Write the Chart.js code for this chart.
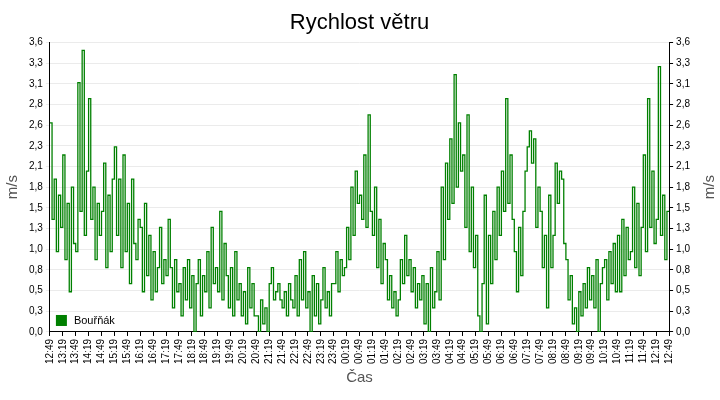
<!DOCTYPE html>
<html><head><meta charset="utf-8">
<script src="https://cdn.jsdelivr.net/npm/chart.js@4"></script>
<style>html,body{margin:0;padding:0;background:#fff}#w{width:720px;height:400px}</style>
</head><body><div id="w"><canvas id="c"></canvas></div>
<script>
const seriesName = "Bouřňák";
const startTime = "12:49";
const stepMinutes = 5;
const yTicksMax = 3.6;
const speed = [
2.6,1.4,1.9,1.0,1.7,1.3, 2.2,0.9,1.6,0.5,1.8,1.1, 1.0,3.1,1.5,3.5,1.2,2.0, 2.9,1.4,1.8,0.9,1.6,1.2,
1.5,2.1,0.8,1.7,1.0,1.9, 2.3,1.2,1.9,0.8,2.2,1.0, 1.6,0.6,1.9,1.1,0.9,1.4, 1.3,0.5,1.6,0.7,1.2,0.4,
1.0,0.5,0.8,1.3,0.6,0.9, 0.7,1.4,0.8,0.3,0.9,0.5, 0.6,0.2,0.8,0.4,0.9,0.3, 0.7,0.0,0.6,0.9,0.2,0.7,
0.5,1.0,0.3,1.3,0.6,0.8, 0.5,1.5,0.4,1.1,0.7,0.3, 0.8,0.2,1.0,0.4,0.6,0.2, 0.5,0.1,0.8,0.3,0.6,0.2,
0.2,0.0,0.4,0.1,0.3,0.0, 0.6,0.8,0.4,0.5,0.6,0.4, 0.3,0.5,0.2,0.6,0.4,0.3, 0.7,0.2,0.9,0.4,1.0,0.3,
0.5,0.0,0.7,0.2,0.6,0.1, 0.4,0.8,0.3,0.5,0.2,0.6, 0.6,1.0,0.5,0.9,0.7,0.8, 1.3,0.9,1.8,1.2,2.0,1.6,
1.7,1.4,2.2,1.3,2.7,1.5, 1.2,1.8,0.8,1.4,0.6,1.1, 0.9,0.4,0.7,0.3,0.5,0.2, 0.4,0.9,0.6,1.2,0.7,0.9,
0.5,0.8,0.3,0.6,0.4,0.7, 0.1,0.6,0.0,0.8,0.3,0.5, 1.0,0.4,1.8,0.9,2.1,1.4, 2.4,1.6,3.2,1.8,2.6,2.0,
2.2,1.3,2.7,1.0,1.8,0.8, 1.2,0.2,0.0,0.6,1.7,0.1, 1.2,0.6,1.5,0.9,1.8,1.2, 2.0,1.5,2.9,1.6,2.2,1.4,
1.0,0.5,1.3,0.7,1.5,2.0, 2.3,2.5,2.1,2.4,1.3,1.8, 1.5,0.8,1.2,0.3,1.7,0.8, 1.2,2.1,1.6,2.0,1.9,1.1,
0.9,0.4,0.7,0.1,0.3,0.0, 0.5,0.2,0.6,0.3,0.8,0.4, 0.7,0.3,0.9,0.0,0.6,0.8, 0.9,0.4,1.0,0.6,1.1,0.5,
1.2,0.5,1.4,0.7,1.3,0.9, 1.0,1.8,0.8,1.6,0.7,1.3, 2.2,1.0,2.9,1.3,2.0,1.1, 1.4,3.3,1.2,1.7,0.9,1.5,
1.5
];
const labels = [];
{ let [h,m] = startTime.split(':').map(Number); let t = h*60+m;
  for (let i=0;i<speed.length;i++){ const tt=(t+i*stepMinutes)%1440; labels.push(String(Math.floor(tt/60)).padStart(2,'0')+':'+String(tt%60).padStart(2,'0')); } }

const fmt = v => (Math.round(v*10)/10).toFixed(1).replace('.',',');
const tickFont = {family:'Liberation Sans, Arial', size:10};
const yTicks = {stepSize:yTicksMax/14, callback:fmt, color:'#000', font:tickFont, padding:3};
const extras = { id:'extras', afterDraw(ch){
  const a=ch.chartArea, c=ch.ctx; c.save();
  c.fillStyle='#008000'; c.fillRect(a.left+6, a.bottom-17, 11, 11);
  c.fillStyle='#000'; c.font='11px "Liberation Sans", Arial'; c.textBaseline='middle';
  c.fillText(seriesName, a.left+24, a.bottom-11);
  const s=ch.scales.y2;
  c.fillStyle='#555'; c.font='15px "Liberation Sans", Arial'; c.textAlign='center';
  c.translate(s.right-9, (a.top+a.bottom)/2); c.rotate(-Math.PI/2); c.fillText('m/s',0,0);
  c.restore(); } };

new Chart(document.getElementById('c'), {
  type:'line',
  data:{labels, datasets:[{label:seriesName, data:speed, borderColor:'#008000', borderWidth:1.3, pointRadius:0, stepped:true, fill:false, yAxisID:'y'}]},
  options:{
    responsive:true, maintainAspectRatio:false, animation:false,
    layout:{padding:{left:0,right:1,top:8,bottom:9}},
    plugins:{legend:{display:false}, tooltip:{enabled:false},
      title:{display:true, text:'Rychlost větru', color:'#000', font:{family:'Liberation Sans, Arial', size:22, weight:'normal'}, padding:{top:2,bottom:6}}},
    scales:{
      x:{offset:false, grid:{display:true, drawOnChartArea:false, color:'#000', tickLength:4},
        border:{color:'#000'},
        ticks:{autoSkip:false, maxRotation:90, minRotation:90, color:'#000', font:tickFont,
          callback:(v,i)=> i%6===0 ? labels[i] : null},
        title:{display:true, text:'Čas', color:'#555', font:{family:'Liberation Sans, Arial', size:15}, padding:{top:2}}},
      y:{position:'left', min:0, max:yTicksMax, grid:{color:'#ebebeb', tickLength:4}, ticks:yTicks, border:{color:'#000'},
        title:{display:true, text:'m/s', color:'#555', font:{family:'Liberation Sans, Arial', size:15}}},
      y2:{position:'right', min:0, max:yTicksMax, grid:{drawOnChartArea:false, color:'#000', tickLength:4}, ticks:yTicks, border:{color:'#000'},
        title:{display:true, text:'m/s', color:'rgba(0,0,0,0)', font:{family:'Liberation Sans, Arial', size:15}}}
    }
  },
  plugins:[extras]
});
</script></body></html>
